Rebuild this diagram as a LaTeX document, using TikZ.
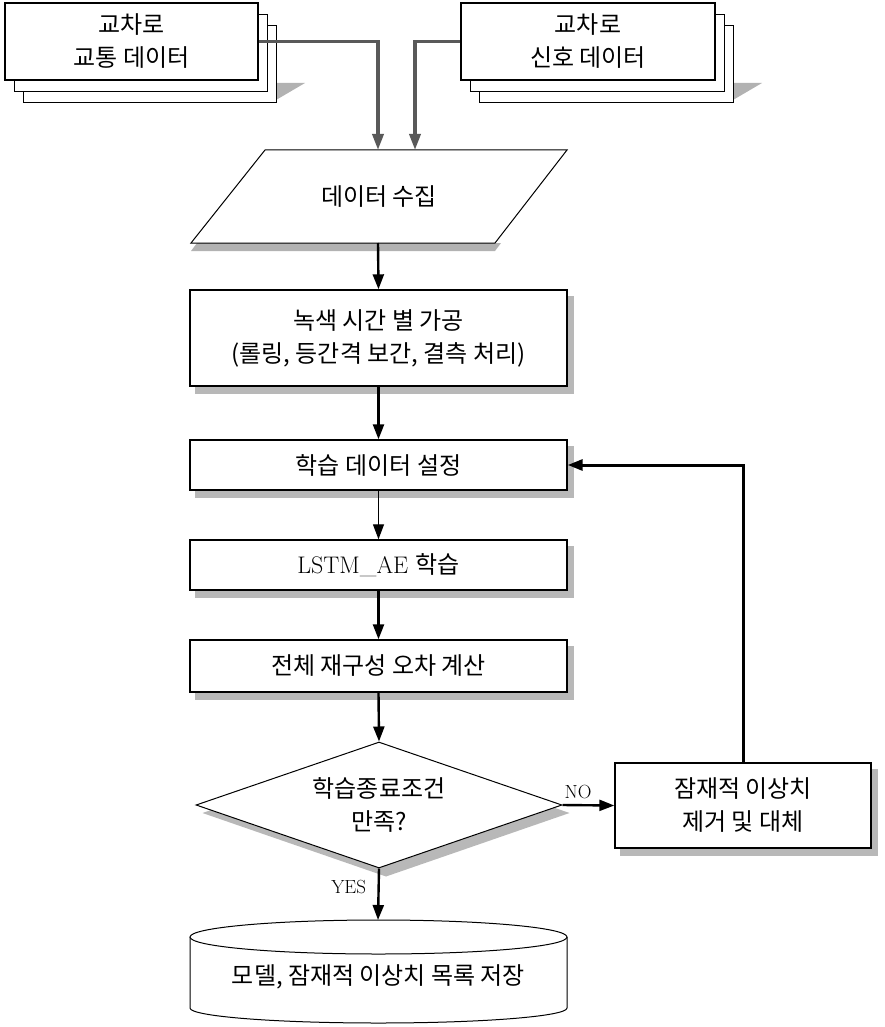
\documentclass[tikz,border=0pt]{standalone}
\usepackage{fontspec}
\newfontfamily\kr{Noto Sans CJK KR}
\usetikzlibrary{shapes.geometric,arrows.meta,backgrounds}
\begin{document}
\begin{tikzpicture}[x=1pt,y=-1pt,
  txt/.style={font=\fontsize{24}{33}\selectfont, align=center},
  box/.style={draw, line width=1.4pt, fill=white, txt},
  page/.style={draw, line width=0.9pt, fill=white},
  sh/.style={fill=black!28},
  arr/.style={line width=2.4pt, -{Triangle[length=15pt,width=11pt]}},
  garr/.style={line width=3.5pt, draw=black!65, -{Triangle[length=16pt,width=11pt]}}]
\useasboundingbox (0,0) rectangle (885,1027);
% left document stack
\fill[black!30] (276,83) -- (305,83) -- (276,100) -- cycle;
\draw[page] (23,25) rectangle (276,102);
\draw[page] (14,14) rectangle (267,91);
\node[draw, line width=1.6pt, fill=white, txt, minimum width=253pt, minimum height=77pt] (d1) at (131.5,41.5) {\kr 교차로\\\kr 교통 데이터};
% right document stack
\fill[black!30] (733,83) -- (762,83) -- (733,100) -- cycle;
\draw[page] (479,25) rectangle (733,102);
\draw[page] (470,14) rectangle (724,91);
\node[draw, line width=1.6pt, fill=white, txt, minimum width=254pt, minimum height=77pt] (d2) at (588,41.5) {\kr 교차로\\\kr 신호 데이터};
% parallelogram
\fill[black!30] (197,243) -- (501,243) -- (495,251) -- (191,251) -- cycle;
\draw[line width=1pt, fill=white] (265,150) -- (567,150) -- (495,243) -- (191,243) -- cycle;
\node[txt] (collect) at (379,197) {\kr 데이터 수집};
\coordinate (ctopA) at (378,150);
\coordinate (ctopB) at (415,150);
\coordinate (cbot) at (378,243);
% boxes
\node[box, minimum width=377pt, minimum height=96pt] (proc) at (378.5,338) {\kr 녹색 시간 별 가공\\{\kr (롤링, 등간격 보간, 결측 처리)}};
\node[box, minimum width=377pt, minimum height=50pt] (set) at (378.5,465) {\kr 학습 데이터 설정};
\node[box, minimum width=377pt, minimum height=50pt] (lstm) at (378.5,565) {LSTM\_AE {\kr 학습}};
\node[box, minimum width=377pt, minimum height=52pt] (err) at (378.5,666) {\kr 전체 재구성 오차 계산};
\node[draw, line width=1pt, fill=white, diamond, aspect=2.9, txt, minimum width=366pt, minimum height=126pt, inner sep=0pt] (cond) at (379,805) {\kr 학습종료조건\\\kr 만족?};
\node[box, minimum width=256pt, minimum height=85pt] (rem) at (743,805.5) {\kr 잠재적 이상치\\\kr 제거 및 대체};
\begin{scope}[on background layer]
\foreach \n in {proc,set,lstm,err,rem}
  \fill[sh] ([shift={(6pt,-7pt)}]\n.north west) rectangle ([shift={(6pt,-7pt)}]\n.south east);
\fill[sh] ([shift={(7pt,-8pt)}]cond.north) -- ([shift={(7pt,-8pt)}]cond.east) -- ([shift={(7pt,-8pt)}]cond.south) -- ([shift={(7pt,-8pt)}]cond.west) -- cycle;
\end{scope}
% cylinder
\draw[line width=1pt, fill=white] (190,937) -- (190,1008) arc[start angle=180,end angle=360,x radius=188.5pt,y radius=15pt] -- (567,937);
\draw[line width=1pt, fill=white] (378.5,937) ellipse[x radius=188.5pt,y radius=17pt];
\node[txt] (store) at (378.5,977) {\kr 모델, 잠재적 이상치 목록 저장};
\coordinate (cyltop) at (378,920);
% connectors
\draw[garr] (d1.east) -| (ctopA);
\draw[garr] (d2.west) -| (ctopB);
\draw[arr] (cbot) -- (proc.north);
\draw[arr] (proc.south) -- (set.north);
\draw[arr, line width=1.2pt] (set.south) -- (lstm.north);
\draw[arr] (lstm.south) -- (err.north);
\draw[arr] (err.south) -- (cond.north);
\draw[arr] (cond.east) -- node[above, pos=0.3, yshift=2pt, font=\fontsize{19}{20}\selectfont]{NO} (rem.west);
\draw[arr] (cond.south) -- node[left, pos=0.35, xshift=-8pt, font=\fontsize{19}{20}\selectfont]{YES} (cyltop);
\draw[arr, line width=3pt] (rem.north) |- (set.east);
\end{tikzpicture}
\end{document}
